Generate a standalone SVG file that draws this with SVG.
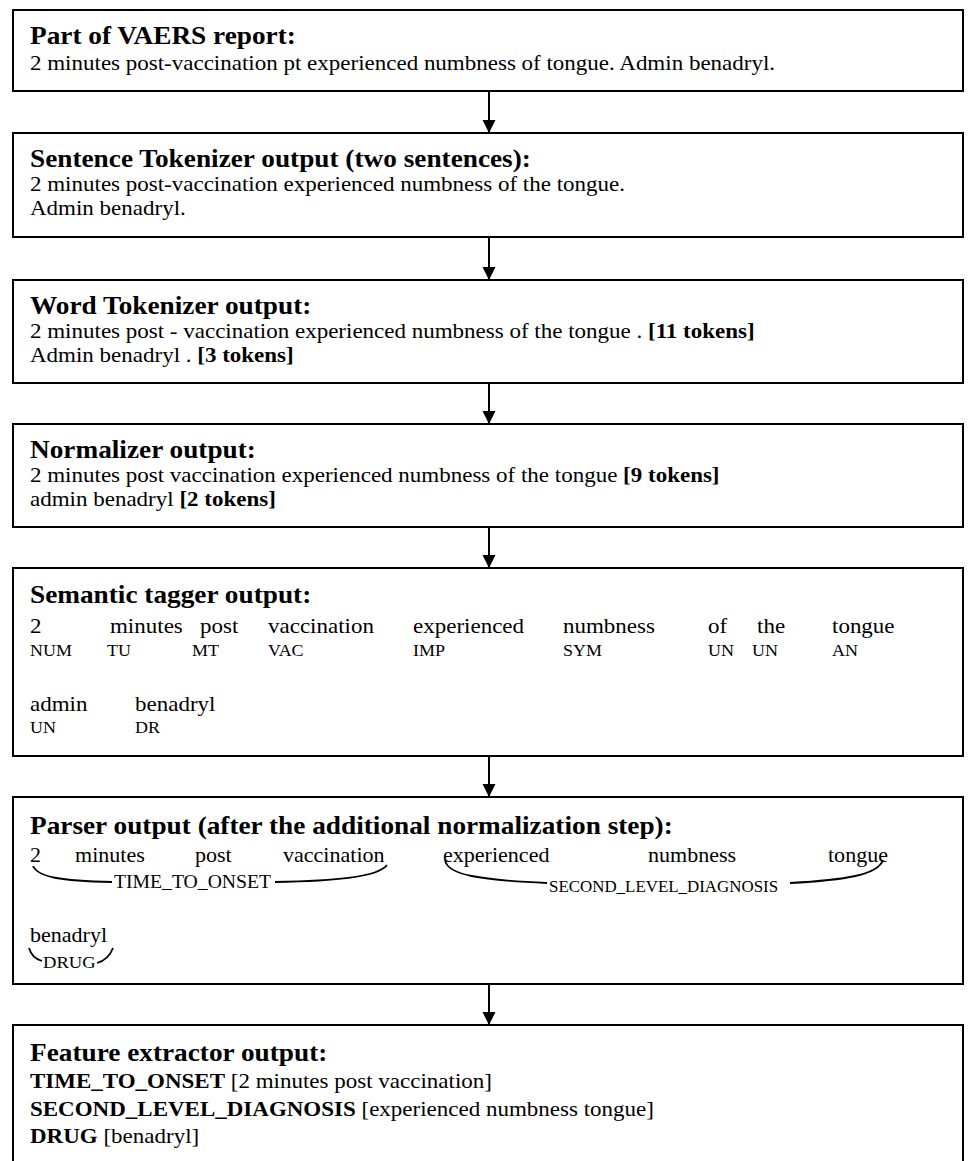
<svg xmlns="http://www.w3.org/2000/svg" width="968" height="1161" viewBox="0 0 968 1161">
<defs>
<style>
text { font-family: "Liberation Serif", "Times New Roman", serif; fill: #000; transform: scaleX(1.07); transform-box: fill-box; transform-origin: 0 0; }
.h { font-size: 25.5px; font-weight: bold; }
.b { font-size: 21.5px; }
.p { font-size: 20.6px; }
.tag { font-size: 16.8px; }
.l1 { font-size: 18.4px; }
.l2 { font-size: 15.8px; }
.l3 { font-size: 17.4px; }
.bold { font-weight: bold; }
.box { fill: #fff; stroke: #000; stroke-width: 2; }
.conn line { stroke: #000; stroke-width: 2; }
.brace { fill: none; stroke: #000; stroke-width: 1.8; }
</style>
<marker id="ah" markerUnits="userSpaceOnUse" markerWidth="14" markerHeight="14" refX="13" refY="6.5" orient="auto">
<path d="M0,0 L13,6.5 L0,13 z" fill="#000"/>
</marker>
</defs>
<rect width="968" height="1161" fill="#fff"/>

<g id="connectors" class="conn">
<line x1="489" y1="92" x2="489" y2="133" marker-end="url(#ah)"/>
<line x1="489" y1="238" x2="489" y2="280" marker-end="url(#ah)"/>
<line x1="489" y1="384" x2="489" y2="424" marker-end="url(#ah)"/>
<line x1="489" y1="528" x2="489" y2="568" marker-end="url(#ah)"/>
<line x1="489" y1="757" x2="489" y2="797" marker-end="url(#ah)"/>
<line x1="489" y1="984" x2="489" y2="1025" marker-end="url(#ah)"/>
</g>

<g id="vaers-report">
<rect class="box" x="13" y="10" width="950" height="81"/>
<text class="h" x="30" y="44">Part of VAERS report:</text>
<text class="b" x="30" y="70">2 minutes post-vaccination pt experienced numbness of tongue. Admin benadryl.</text>
</g>

<g id="sentence-tokenizer">
<rect class="box" x="13" y="133" width="950" height="104"/>
<text class="h" x="30" y="167">Sentence Tokenizer output (two sentences):</text>
<text class="b" x="30" y="191">2 minutes post-vaccination experienced numbness of the tongue.</text>
<text class="b" x="30" y="215">Admin benadryl.</text>
</g>

<g id="word-tokenizer">
<rect class="box" x="13" y="280" width="950" height="103"/>
<text class="h" x="30" y="314">Word Tokenizer output:</text>
<text class="b" x="30" y="338">2 minutes post - vaccination experienced numbness of the tongue . <tspan class="bold">[11 tokens]</tspan></text>
<text class="b" x="30" y="362">Admin benadryl . <tspan class="bold">[3 tokens]</tspan></text>
</g>

<g id="normalizer">
<rect class="box" x="13" y="424" width="950" height="103"/>
<text class="h" x="30" y="458">Normalizer output:</text>
<text class="b" x="30" y="482">2 minutes post vaccination experienced numbness of the tongue <tspan class="bold">[9 tokens]</tspan></text>
<text class="b" x="30" y="506">admin benadryl <tspan class="bold">[2 tokens]</tspan></text>
</g>

<g id="semantic-tagger">
<rect class="box" x="13" y="568" width="950" height="188"/>
<text class="h" x="30" y="603">Semantic tagger output:</text>
<text class="b" x="30" y="633">2</text>
<text class="b" x="110" y="633">minutes</text>
<text class="b" x="200" y="633">post</text>
<text class="b" x="268" y="633">vaccination</text>
<text class="b" x="413" y="633">experienced</text>
<text class="b" x="563" y="633">numbness</text>
<text class="b" x="708" y="633">of</text>
<text class="b" x="757" y="633">the</text>
<text class="b" x="832" y="633">tongue</text>
<text class="tag" x="30" y="656">NUM</text>
<text class="tag" x="107" y="656">TU</text>
<text class="tag" x="192" y="656">MT</text>
<text class="tag" x="268" y="656">VAC</text>
<text class="tag" x="413" y="656">IMP</text>
<text class="tag" x="563" y="656">SYM</text>
<text class="tag" x="708" y="656">UN</text>
<text class="tag" x="752" y="656">UN</text>
<text class="tag" x="832" y="656">AN</text>
<text class="b" x="30" y="711">admin</text>
<text class="b" x="135" y="711">benadryl</text>
<text class="tag" x="30" y="733">UN</text>
<text class="tag" x="135" y="733">DR</text>
</g>

<g id="parser">
<rect class="box" x="13" y="797" width="950" height="187"/>
<text class="h" x="30" y="834">Parser output (after the additional normalization step):</text>
<text class="p" x="30" y="862">2</text>
<text class="p" x="75" y="862">minutes</text>
<text class="p" x="195" y="862">post</text>
<text class="p" x="283" y="862">vaccination</text>
<text class="p" x="443" y="862">experienced</text>
<text class="p" x="648" y="862">numbness</text>
<text class="p" x="828" y="862">tongue</text>
<path class="brace" d="M33,866 C38,877 60,881 112,882"/>
<path class="brace" d="M275,882 C336,881 378,877 387,865"/>
<text class="l1" x="114" y="888">TIME_TO_ONSET</text>
<path class="brace" d="M445,860 C447,875 480,880 547,883"/>
<path class="brace" d="M790,883 C845,880 878,875 883,860"/>
<text class="l2" x="549" y="892">SECOND_LEVEL_DIAGNOSIS</text>
<text class="p" x="30" y="942">benadryl</text>
<path class="brace" d="M29,948 C31,955 35,959 42,961"/>
<path class="brace" d="M97,963 C104,961 110,956 113,948"/>
<text class="l3" x="43" y="968">DRUG</text>
</g>

<g id="feature-extractor">
<rect class="box" x="13" y="1025" width="950" height="160"/>
<text class="h" x="30" y="1061">Feature extractor output:</text>
<text class="b" x="30" y="1088"><tspan class="bold">TIME_TO_ONSET</tspan> [2 minutes post vaccination]</text>
<text class="b" x="30" y="1116"><tspan class="bold">SECOND_LEVEL_DIAGNOSIS</tspan> [experienced numbness tongue]</text>
<text class="b" x="30" y="1143"><tspan class="bold">DRUG</tspan> [benadryl]</text>
</g>
</svg>
